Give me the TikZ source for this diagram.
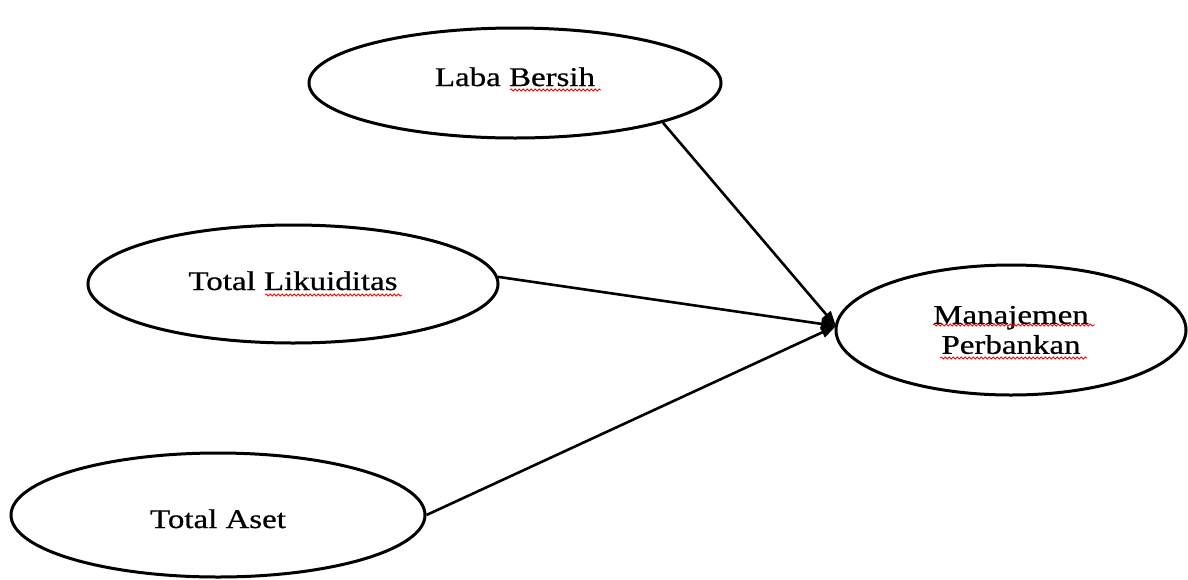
\documentclass[tikz,border=0pt]{standalone}
\usepackage{fontspec}
\setmainfont[FakeBold=0.6]{Liberation Serif}
\usetikzlibrary{shapes.geometric,arrows.meta,decorations.pathmorphing}
\newcommand{\widetxt}[1]{\scalebox{1.22}[1]{#1}}
\tikzset{
  var/.style={ellipse, draw, line width=3pt, inner sep=0pt, align=center,
    font=\fontsize{27}{31}\selectfont},
  link/.style={line width=2.6pt, -{Triangle[length=15pt,width=11pt]}},
  squig/.style={red, line width=0.8pt, decorate,
    decoration={snake, amplitude=1pt, segment length=4pt}}
}
\begin{document}
\begin{tikzpicture}[x=1pt,y=-1pt]
\useasboundingbox (0,0) rectangle (1188,579);
\node[var, minimum width=412pt, minimum height=110pt, text height=18pt, text depth=12pt] (lb) at (515,83) {\widetxt{Laba Bersih}};
\node[var, minimum width=410pt, minimum height=118pt, text height=18pt, text depth=6pt] (lk) at (293,284) {\widetxt{Total Likuiditas}};
\node[var, minimum width=414pt, minimum height=124pt, text height=26pt, text depth=0pt] (as) at (218,515) {\widetxt{Total Aset}};
\node[var, minimum width=350pt, minimum height=130pt] (mp) at (1011,330) {\widetxt{Manajemen}\\[-1pt]\widetxt{Perbankan}};
\coordinate (tip) at (836,326);
\draw[link] (lb.-15) -- (tip);
\draw[link] (lk.2) -- (tip);
\draw[link] (as.east) -- (tip);
% spell-check squiggles
\draw[squig] (510,90) -- (601,90);
\draw[squig] (265,295) -- (402,295);
\draw[squig] (933,325) -- (1095,325);
\draw[squig] (940,358) -- (1087,358);
\end{tikzpicture}
\end{document}
